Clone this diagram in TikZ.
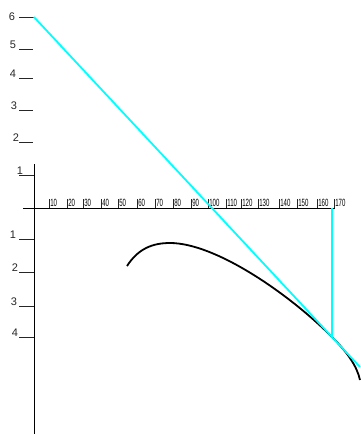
\documentclass[tikz,border=0pt]{standalone}
\usepackage{fontspec}
\setmainfont{Liberation Sans}
\definecolor{aqua}{RGB}{0,255,255}
\begin{document}
\begin{tikzpicture}[x=1pt,y=-1pt,
  axis/.style={line width=0.9pt,black},
  tickln/.style={line width=0.7pt,black!85},
  ylab/.style={font=\fontsize{11}{11}\selectfont,inner sep=0pt,text=black!85},
  xlab/.style={font=\fontsize{10.5}{10.5}\selectfont,inner sep=0pt,anchor=south west,xscale=0.58,text=black},
  cyanln/.style={line width=1.8pt,aqua},
  curve/.style={line width=1.8pt,black}]
\useasboundingbox (0,0) rectangle (360,434);
% axes
\coordinate (vtop) at (34,164);
\coordinate (vbot) at (34,434);
\coordinate (hl) at (23,208);
\coordinate (hr) at (335,208);
\draw[axis] (vtop) -- (vbot);
\draw[axis] (hl) -- (hr);
% y ticks above
\foreach \n/\yy/\lx/\ly/\ex in {6/17/12/17/34,5/49/13/45/33,4/78/13/74/33,3/110/14/106/33,2/142/16/138/33,1/175/20/171/34}{
  \coordinate (ta\n) at (19,\yy);
  \coordinate (tb\n) at (\ex,\yy);
  \draw[tickln] (ta\n) -- (tb\n);
  \node[ylab] (yl\n) at (\lx,\ly) {\n};
}
% y ticks below
\foreach \n/\yy/\lx/\ly in {1/239/13/235,2/272/15/268,3/306/14/302,4/337/15/333}{
  \coordinate (tc\n) at (19,\yy);
  \coordinate (td\n) at (34,\yy);
  \draw[tickln] (tc\n) -- (td\n);
  \node[ylab] (ylb\n) at (\lx,\ly) {\n};
}
% x ticks
\foreach \v/\xx in {10/49,20/67,30/83,40/101,50/118,60/137,70/155,80/173,90/191,100/208,110/226,120/241,130/258,140/279,150/297,160/317,170/334}{
  \coordinate (xa\v) at (\xx,199);
  \coordinate (xb\v) at (\xx,208);
  \draw[tickln] (xa\v) -- (xb\v);
  \node[xlab] (xl\v) at (\xx+1.2,207) {\v};
}
% curve
\coordinate (k0) at (127,266);
\coordinate (k1) at (170,243);
\coordinate (k2) at (332,337);
\coordinate (k3) at (360,380);
\draw[curve] (k0) .. controls (138,249) and (152,243) .. (k1)
  .. controls (215,243) and (288,293) .. (k2)
  .. controls (347,352) and (357,366) .. (k3);
% cyan lines
\coordinate (c0) at (34,17);
\coordinate (c1) at (332,337);
\coordinate (c2) at (360,367);
\coordinate (c3) at (332,208);
\draw[cyanln] (c0) -- (c1) -- (c2);
\draw[cyanln] (c3) -- (c1);
\end{tikzpicture}
\end{document}
